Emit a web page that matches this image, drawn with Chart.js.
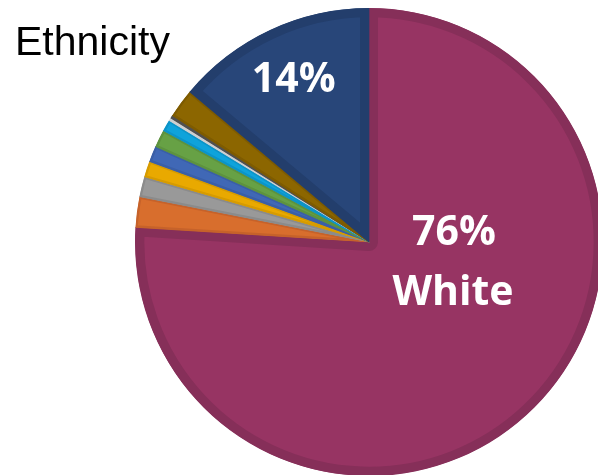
<!DOCTYPE html>
<html>
<head>
<meta charset="utf-8">
<script src="https://cdn.jsdelivr.net/npm/chart.js@4"></script>
<style>
  html, body { margin: 0; padding: 0; background: #fff; overflow: hidden; }
  #wrap { position: relative; width: 598px; height: 475px; overflow: hidden; }
  #chart { position: absolute; left: 0; top: 0; }
  .title { position: absolute; left: 15px; top: 18px; font: 41px "Liberation Sans", Arial, sans-serif; color: #000; white-space: nowrap; }
</style>
</head>
<body>
<div id="wrap">
  <canvas id="chart" width="640" height="480"></canvas>
  <div class="title">Ethnicity</div>
</div>
<script>
// Ethnicity breakdown, percent of total
const groups = ['White', 'Mixed', 'Indian', 'Pakistani', 'Bangladeshi', 'Chinese', 'Black African', 'Black Caribbean', 'Other', 'Not known', 'Asian'];
const shares = [76.0, 2.1, 1.4, 1.1, 1.1, 1.2, 0.8, 0.2, 0.2, 2.0, 13.9];
const shareLabels = ['76%', '', '', '', '', '', '', '', '', '', '14%'];
const fillColors = ['#973463', '#D86E2D', '#999999', '#E9A900', '#4068B6', '#67A145', '#0FA3DB', '#F4F4F4', '#5A5A5A', '#8C6600', '#284679'];
const edgeColors = ['#862F59', '#C6622A', '#8B8B8B', '#D69B00', '#3A5FA7', '#5D923F', '#0C94C8', '#CFCFCF', '#505050', '#7E5B00', '#233E6C'];

// Custom text placed inside the two large slices
const sliceText = {
    id: 'sliceText',
    afterDatasetsDraw(chart) {
        const ctx = chart.ctx;
        const arcs = chart.getDatasetMeta(0).data;
        ctx.save();
        ctx.fillStyle = '#ffffff';
        ctx.textAlign = 'center';
        ctx.textBaseline = 'alphabetic';
        ctx.font = 'bold 41px "Open Sans", sans-serif';

        // big slice: value and group name, right of centre
        const w = arcs[0];
        ctx.fillText(shareLabels[0], w.x + 85, w.y + 3);
        ctx.fillText(groups[0], w.x + 84, w.y + 63);

        // second slice: value on the mid angle
        const a = arcs[arcs.length - 1];
        const mid = (a.startAngle + a.endAngle) / 2;
        const r = a.outerRadius * 0.76;
        ctx.fillText(shareLabels[shareLabels.length - 1], a.x + Math.cos(mid) * r, a.y + Math.sin(mid) * r + 11);
        ctx.restore();
    }
};

const ctx = document.getElementById('chart').getContext('2d');
const pieChart = new Chart(ctx, {
    type: 'pie',
    data: {
        labels: groups,
        datasets: [{
            data: shares,
            backgroundColor: fillColors,
            borderColor: edgeColors,
            borderWidth: function(c) {
                return shares[c.dataIndex] > 5 ? 9 : 2;
            },
            borderAlign: 'inner'
        }]
    },
    options: {
        responsive: false,
        animation: false,
        devicePixelRatio: 1,
        layout: {
            padding: { left: 135, right: 37, top: 8, bottom: 4 }
        },
        plugins: {
            legend: { display: false },
            tooltip: { enabled: false }
        }
    },
    plugins: [sliceText]
});
</script>
</body>
</html>
